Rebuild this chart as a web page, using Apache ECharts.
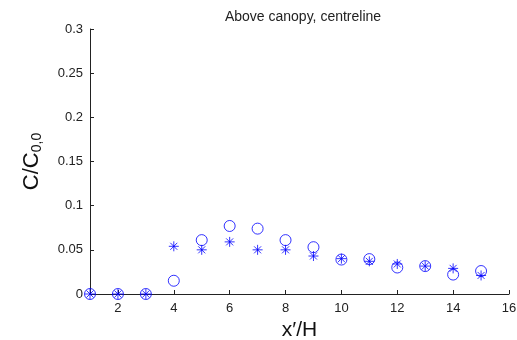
<!DOCTYPE html>
<html><head><meta charset="utf-8">
<script src="https://cdn.jsdelivr.net/npm/echarts@6/dist/echarts.min.js"></script>
<style>html,body{margin:0;padding:0;background:#fff}#c{width:517px;height:340px}</style>
</head><body><div id="c"></div>
<script>
const xValues = [1,2,3,4,5,6,7,8,9,10,11,12,13,14,15];
const circleValues = [0,0,0,0.015,0.061,0.077,0.074,0.061,0.053,0.039,0.0395,0.030,0.0316,0.022,0.026];
const starValues = [0,0,0,0.054,0.050,0.059,0.050,0.050,0.043,0.040,0.037,0.034,0.0316,0.029,0.021];
const xTicks = [2,4,6,8,10,12,14,16];
const titleText = 'Above canopy, centreline';

const font = 'Liberation Sans, Arial, sans-serif';
const chart = echarts.init(document.getElementById('c'), null, {renderer:'canvas'});
const star = 'path://M0,-10L0,10M-10,0L10,0M-7,-7L7,7M-7,7L7,-7';
chart.setOption({
  animation:false,
  backgroundColor:'#fff',
  title:{text:titleText,left:298,textAlign:'center',top:5,textStyle:{fontSize:14,fontWeight:'normal',color:'#222',fontFamily:font}},
  grid:{left:90,right:8,top:29,bottom:46,containLabel:false,outerBoundsMode:'none'},
  xAxis:{type:'value',min:1,max:16,
    name:'x′/H',nameLocation:'middle',nameGap:24,
    nameTextStyle:{fontSize:21,color:'#111',fontFamily:font},
    axisLine:{lineStyle:{color:'#222'}},
    axisTick:{inside:true,length:4,customValues:xTicks,lineStyle:{color:'#222'}},
    axisLabel:{customValues:xTicks,fontSize:13,color:'#222',fontFamily:font,margin:8},
    splitLine:{show:false}},
  yAxis:{type:'value',min:0,max:0.3,interval:0.05,
    name:'{m|C/C}{s|0,0}',nameLocation:'middle',nameGap:46,
    nameTextStyle:{rich:{m:{fontSize:22,color:'#111',fontFamily:font},s:{fontSize:14,color:'#111',fontFamily:font,verticalAlign:'bottom',padding:[10,0,0,0]}}},
    axisLine:{show:true,lineStyle:{color:'#222'}},
    axisTick:{show:true,inside:true,length:4,lineStyle:{color:'#222'}},
    axisLabel:{fontSize:13,color:'#222',fontFamily:font,margin:7,formatter:v=>String(+v.toFixed(2))},
    splitLine:{show:false}},
  series:[
    {type:'scatter',data:xValues.map((x,i)=>[x,circleValues[i]]),symbol:'circle',symbolSize:11,clip:false,
      itemStyle:{color:'rgba(0,0,0,0)',borderColor:'#0000ff',borderWidth:1}},
    {type:'scatter',data:xValues.map((x,i)=>[x,starValues[i]]),symbol:star,symbolSize:10,clip:false,
      itemStyle:{color:'rgba(0,0,0,0)',borderColor:'#0000ff',borderWidth:1}}
  ]
});
</script></body></html>
